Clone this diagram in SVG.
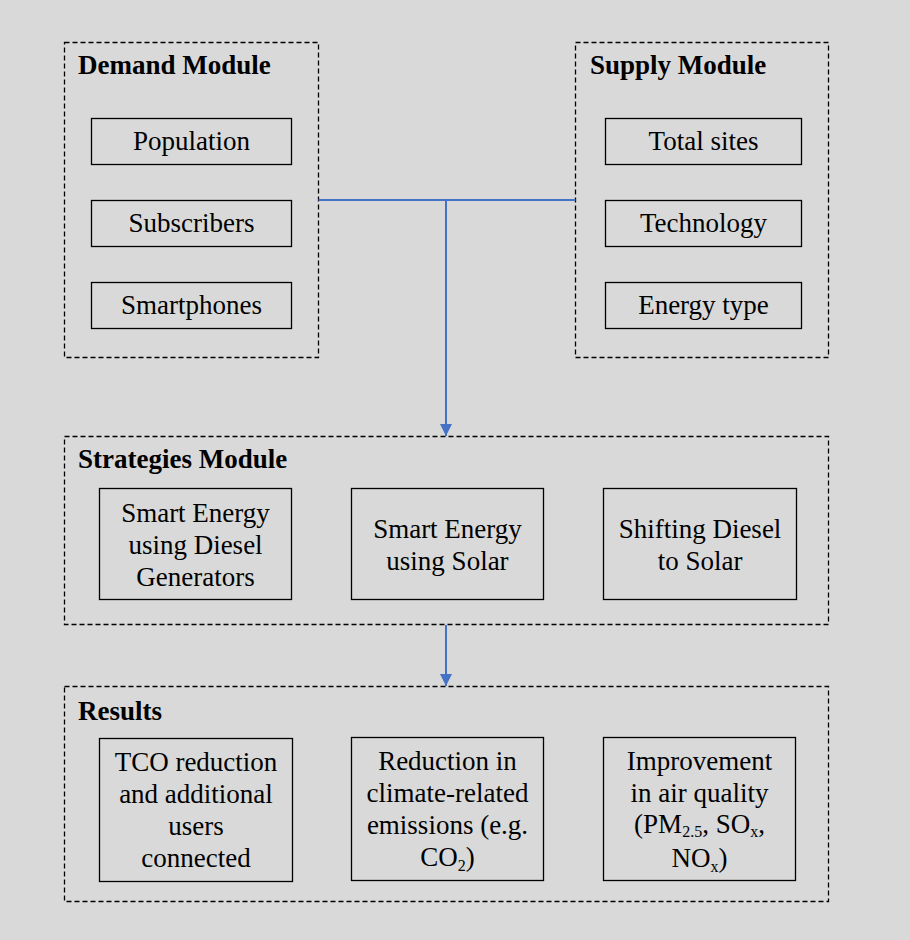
<svg xmlns="http://www.w3.org/2000/svg" width="910" height="940" viewBox="0 0 910 940">
<defs>
<style>
.mod{fill:none;stroke:#000;stroke-width:1.3;stroke-dasharray:5 3}
.box{fill:none;stroke:#000;stroke-width:1.3}
.t{font-family:"Liberation Serif","Times New Roman",serif;font-size:27px;fill:#000;text-anchor:middle}
.h{font-family:"Liberation Serif","Times New Roman",serif;font-size:27px;font-weight:bold;fill:#000}
.con{fill:none;stroke:#4472C4;stroke-width:2}
.sub{font-size:16px}
</style>
<marker id="arr" markerUnits="userSpaceOnUse" markerWidth="12" markerHeight="12" refX="12" refY="6" orient="auto" viewBox="0 0 12 12">
<path d="M0,0 L12,6 L0,12 Z" fill="#4472C4"/>
</marker>
</defs>
<rect width="910" height="940" fill="#d9d9d9"/>

<g id="demand">
<rect class="mod" x="64.5" y="42.5" width="254" height="315"/>
<text class="h" x="78" y="74">Demand Module</text>
</g>
<g id="population"><rect class="box" x="91.5" y="118.5" width="200" height="46"/><text class="t" x="191.5" y="150">Population</text></g>
<g id="subscribers"><rect class="box" x="91.5" y="200.5" width="200" height="46"/><text class="t" x="191.5" y="232">Subscribers</text></g>
<g id="smartphones"><rect class="box" x="91.5" y="282.5" width="200" height="46"/><text class="t" x="191.5" y="314">Smartphones</text></g>

<g id="supply">
<rect class="mod" x="575.5" y="42.5" width="253" height="315"/>
<text class="h" x="590" y="74">Supply Module</text>
</g>
<g id="totalsites"><rect class="box" x="605.5" y="118.5" width="196" height="46"/><text class="t" x="703.5" y="150">Total sites</text></g>
<g id="technology"><rect class="box" x="605.5" y="200.5" width="196" height="46"/><text class="t" x="703.5" y="232">Technology</text></g>
<g id="energytype"><rect class="box" x="605.5" y="282.5" width="196" height="46"/><text class="t" x="703.5" y="314">Energy type</text></g>

<g id="strategies">
<rect class="mod" x="64.5" y="436.5" width="764" height="188"/>
<text class="h" x="78" y="468">Strategies Module</text>
</g>
<g id="s1"><rect class="box" x="99.5" y="488.5" width="192" height="111"/>
<text class="t" x="195.5" y="522">Smart Energy</text><text class="t" x="195.5" y="554">using Diesel</text><text class="t" x="195.5" y="586">Generators</text></g>
<g id="s2"><rect class="box" x="351.5" y="488.5" width="192" height="111"/>
<text class="t" x="447.5" y="538">Smart Energy</text><text class="t" x="447.5" y="570">using Solar</text></g>
<g id="s3"><rect class="box" x="603.5" y="488.5" width="193" height="111"/>
<text class="t" x="700" y="538">Shifting Diesel</text><text class="t" x="700" y="570">to Solar</text></g>

<g id="results">
<rect class="mod" x="64.5" y="686.5" width="764" height="215"/>
<text class="h" x="78" y="720">Results</text>
</g>
<g id="r1"><rect class="box" x="99.5" y="738.5" width="193" height="143"/>
<text class="t" x="196" y="771">TCO reduction</text><text class="t" x="196" y="803">and additional</text><text class="t" x="196" y="835">users</text><text class="t" x="196" y="867">connected</text></g>
<g id="r2"><rect class="box" x="351.5" y="737.5" width="192" height="143"/>
<text class="t" x="447.5" y="770">Reduction in</text><text class="t" x="447.5" y="802">climate-related</text><text class="t" x="447.5" y="834">emissions (e.g.</text><text class="t" x="447.5" y="866">CO<tspan class="sub" dy="5">2</tspan><tspan dy="-5">)</tspan></text></g>
<g id="r3"><rect class="box" x="603.5" y="737.5" width="192" height="143"/>
<text class="t" x="699.5" y="770">Improvement</text><text class="t" x="699.5" y="802">in air quality</text><text class="t" x="699.5" y="833">(PM<tspan class="sub" dy="4">2.5</tspan><tspan dy="-4">, SO</tspan><tspan class="sub" dy="4">x</tspan><tspan dy="-4">,</tspan></text><text class="t" x="699.5" y="867">NO<tspan class="sub" dy="5">x</tspan><tspan dy="-5">)</tspan></text></g>

<g id="connectors">
<path class="con" d="M318.5,200 H575.5"/>
<path class="con" d="M446,200 V436" marker-end="url(#arr)"/>
<path class="con" d="M446,625 V686" marker-end="url(#arr)"/>
</g>
</svg>
